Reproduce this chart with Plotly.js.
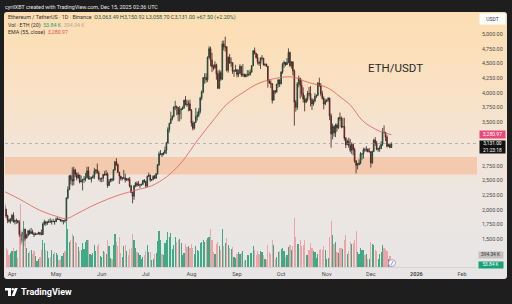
<!DOCTYPE html>
<html><head><meta charset="utf-8">
<script src="https://cdn.plot.ly/plotly-3.0.1.min.js"></script>
<style>
html,body{margin:0;padding:0;background:#1e1e1e;width:512px;height:304px;overflow:hidden}
#bg{position:absolute;left:4px;top:12px;width:503px;height:267px;border-radius:3px;background:linear-gradient(to bottom,#fcdeb2 0%,#f9e1c3 28%,#f2e5d9 52%,#eae6e4 78%,#e7e5e5 100%)}
#chart{position:absolute;left:0;top:0;width:512px;height:304px}
</style></head><body><div id="bg"></div><div id="chart"></div>
<script>
// ---- DATA (ETH/USDT daily, 27 Mar 2025 - 15 Dec 2025) ----
const startDate = '2025-03-27';
const openP = [
 2070,2005,1895,1825,1805,
 1822,1905,1795,1815,1815,1785,1580,1555,1475,1670,1520,1565,1640,1595,1625,1588,1578,1585,1585,1612,1585,1578,1755,1795,1770,1785,1795,1792,1800,1800,
 1795,1840,1843,1835,1808,1815,1815,1810,2205,2345,2580,2515,2490,2680,2610,2545,2595,2475,2495,2520,2525,2550,2665,2525,2530,2550,2565,2660,2680,2630,2530,
 2530,2540,2605,2595,2610,2415,2480,2525,2510,2680,2820,2770,2640,2575,2530,2545,2545,2510,2525,2520,2405,2295,2230,2410,2450,2420,2420,2425,2435,2500,
 2485,2405,2570,2590,2510,2515,2570,2540,2615,2770,2955,2960,2940,2970,3015,3140,3375,3475,3550,3590,3755,3760,3745,3630,3705,3720,3745,3870,3800,3795,3810,
 3695,3480,3390,3490,3590,3615,3680,3910,4010,4255,4260,4220,4600,4750,4555,4440,4425,4475,4315,4075,4340,4230,4830,4780,4780,4380,4600,4510,4510,4365,4370,
 4390,4310,4330,4450,4300,4310,4270,4305,4305,4310,4350,4460,4715,4670,4600,4525,4500,4590,4590,4475,4485,4450,4200,4165,4150,3870,4030,4015,4145,4215,
 4145,4350,4485,4515,4480,4515,4685,4460,4525,4370,3835,3750,4150,4245,4125,3985,3890,3835,3890,3985,3980,3875,3805,3855,3935,3955,4160,4115,3980,3900,3805,
 3850,3875,3905,3605,3295,3420,3315,3445,3400,3570,3565,3415,3420,3225,3110,3170,3100,3015,3115,3025,2835,2760,2770,2800,2955,2955,3025,3020,3030,2990,
 2990,2800,2995,3190,3135,3030,3045,3045,3120,3325,3320,3240,3085,3110,3063.49
];
const highP = [
 2110,2020,1915,1850,1860,
 1925,1955,1830,1850,1820,1820,1640,1620,1690,1670,1590,1650,1665,1690,1660,1615,1610,1600,1625,1615,1660,1785,1830,1800,1810,1835,1855,1830,1845,1815,
 1870,1870,1850,1845,1835,1820,1835,2210,2400,2590,2600,2725,2735,2700,2640,2640,2595,2585,2525,2575,2630,2735,2735,2575,2565,2600,2715,2690,2790,2665,2545,
 2545,2605,2660,2680,2640,2525,2530,2540,2690,2830,2880,2790,2645,2580,2560,2680,2615,2540,2545,2560,2425,2300,2420,2475,2485,2490,2445,2445,2510,2525,
 2495,2585,2635,2600,2525,2590,2595,2620,2780,2995,3020,2965,2990,3080,3160,3410,3485,3675,3615,3765,3860,3780,3755,3770,3730,3765,3880,3940,3880,3865,3880,
 3720,3520,3500,3740,3675,3735,3930,4040,4265,4330,4330,4620,4790,4785,4680,4480,4535,4495,4375,4390,4375,4885,4890,4955,4795,4620,4660,4600,4520,4390,4475,
 4400,4395,4485,4455,4490,4325,4320,4385,4380,4395,4470,4720,4770,4680,4660,4525,4600,4640,4590,4495,4495,4455,4230,4210,4160,4040,4045,4150,4235,4225,
 4365,4515,4545,4520,4590,4755,4700,4535,4530,4395,3875,4180,4290,4250,4210,4090,3955,3915,4030,4095,4110,3910,3890,3990,3965,4180,4255,4160,4030,3935,3895,
 3885,3920,3915,3645,3470,3440,3470,3475,3580,3660,3595,3570,3570,3240,3200,3230,3210,3150,3130,3060,2845,2800,2860,2985,2965,3060,3060,3085,3050,3055,
 3000,3010,3210,3240,3175,3060,3095,3170,3395,3440,3330,3270,3130,3130,3150.92
];
const lowP = [
 1990,1860,1770,1780,1765,
 1800,1780,1750,1760,1765,1535,1410,1440,1385,1470,1505,1545,1570,1590,1580,1535,1565,1575,1580,1565,1565,1570,1735,1725,1740,1780,1780,1745,1785,1745,
 1790,1830,1830,1800,1785,1750,1780,1805,2180,2335,2430,2410,2420,2560,2500,2530,2450,2465,2330,2460,2485,2545,2520,2515,2465,2530,2525,2610,2615,2500,2475,
 2470,2480,2585,2580,2375,2405,2470,2480,2490,2665,2750,2630,2440,2500,2500,2525,2465,2490,2485,2380,2290,2110,2170,2385,2390,2410,2370,2410,2420,2455,
 2375,2390,2560,2475,2490,2505,2525,2525,2600,2750,2930,2900,2930,2955,2950,3125,3320,3465,3525,3580,3700,3615,3510,3510,3545,3705,3720,3780,3755,3680,3685,
 3420,3355,3370,3490,3525,3580,3640,3870,3990,4150,4170,4180,4580,4450,4350,4380,4405,4220,4060,4060,4200,4215,4720,4700,4360,4340,4490,4440,4320,4270,4355,
 4260,4265,4325,4270,4270,4265,4265,4270,4280,4290,4340,4450,4650,4580,4480,4455,4405,4550,4460,4450,4440,4085,4150,4075,3815,3870,3975,3995,4085,4095,
 4145,4320,4420,4450,4470,4500,4440,4410,4295,3435,3675,3705,4090,3900,3930,3830,3680,3820,3850,3935,3765,3705,3775,3835,3905,3940,4100,3935,3880,3715,3785,
 3835,3840,3530,3060,3200,3250,3240,3340,3380,3520,3390,3400,3180,3055,3105,3055,2980,2950,2930,2800,2620,2690,2760,2775,2855,2875,2990,2990,2980,2980,
 2720,2780,2985,3090,3015,2990,2990,3035,3090,3300,3170,3060,3075,3050,3058.70
];
const closeP = [
 2005,1895,1825,1805,1822,
 1905,1795,1815,1815,1785,1580,1555,1475,1670,1520,1565,1640,1595,1625,1588,1578,1585,1585,1612,1585,1578,1755,1795,1770,1785,1795,1792,1800,1800,1795,
 1840,1843,1835,1808,1815,1815,1810,2205,2345,2580,2515,2490,2680,2610,2545,2595,2475,2495,2520,2525,2550,2665,2525,2530,2550,2565,2660,2680,2630,2530,2530,
 2540,2605,2595,2610,2415,2480,2525,2510,2680,2820,2770,2640,2575,2530,2545,2545,2510,2525,2520,2405,2295,2230,2410,2450,2420,2420,2425,2435,2500,2485,
 2405,2570,2590,2510,2515,2570,2540,2615,2770,2955,2960,2940,2970,3015,3140,3375,3475,3550,3590,3755,3760,3745,3630,3705,3720,3745,3870,3800,3795,3810,3695,
 3480,3390,3490,3590,3615,3680,3910,4010,4255,4260,4220,4600,4750,4555,4440,4425,4475,4315,4075,4340,4230,4830,4780,4780,4380,4600,4510,4510,4365,4370,4390,
 4310,4330,4450,4300,4310,4270,4305,4305,4310,4350,4460,4715,4670,4600,4525,4500,4590,4590,4475,4485,4450,4200,4165,4150,3870,4030,4015,4145,4215,4145,
 4350,4485,4515,4480,4515,4685,4460,4525,4370,3835,3750,4150,4245,4125,3985,3890,3835,3890,3985,3980,3875,3805,3855,3935,3955,4160,4115,3980,3900,3805,3850,
 3875,3905,3605,3295,3420,3315,3445,3400,3570,3565,3415,3420,3225,3110,3170,3100,3015,3115,3025,2835,2760,2770,2800,2955,2955,3025,3020,3030,2990,2990,
 2800,2995,3190,3135,3030,3045,3045,3120,3325,3320,3240,3085,3110,3063.49,3131.00
];
// volume in thousands of ETH
const volumeK = [
 520,610,560,380,470,
 520,640,540,560,300,980,2080,1050,1500,880,620,450,520,560,430,520,350,200,250,320,560,900,780,560,520,300,330,560,440,500,
 450,380,230,280,360,470,520,1480,1250,820,900,1100,1020,830,780,650,520,560,800,600,820,880,900,430,400,450,720,520,680,750,360,
 330,540,480,430,880,700,300,280,720,1080,820,700,1000,450,330,680,720,520,380,600,620,1100,880,640,480,450,400,260,330,400,
 520,720,500,480,240,280,420,460,850,1180,900,420,400,800,900,1150,1000,1120,580,720,980,820,900,920,780,380,450,760,650,700,640,
 760,620,420,700,560,520,780,820,900,820,880,950,1000,1260,900,480,420,760,840,700,560,1250,700,800,950,720,620,580,660,340,310,
 420,480,430,460,540,200,220,380,400,450,460,680,560,380,520,430,520,480,400,250,230,720,480,420,900,720,280,320,500,520,
 600,620,540,320,380,650,720,560,700,1600,980,760,760,880,700,720,880,380,400,560,780,640,540,480,300,420,560,600,560,680,560,
 280,300,1000,1500,1050,760,820,480,460,620,640,600,900,1050,420,520,820,760,780,900,1180,500,420,640,560,560,380,420,250,260,
 820,760,720,560,520,260,420,500,720,640,600,540,280,360,53.84
];
// EMA(55)
const emaDates = ['2025-03-27','2025-04-07','2025-04-20','2025-05-01','2025-05-08','2025-05-15','2025-05-25','2025-06-05','2025-06-15','2025-06-25','2025-07-05','2025-07-15','2025-07-25','2025-08-05','2025-08-15','2025-08-25','2025-09-05','2025-09-15','2025-09-25','2025-10-05','2025-10-10','2025-10-20','2025-10-31','2025-11-05','2025-11-10','2025-11-17','2025-11-25','2025-12-01','2025-12-08','2025-12-15'];
const emaVals = [2310,2170,1990,1890,1850,1930,2060,2180,2270,2340,2410,2560,2800,3180,3500,3800,4000,4150,4230,4270,4260,4170,4100,4030,3930,3790,3530,3420,3330,3280.97];
const zoneLow = 2600, zoneHigh = 2900;
const lastPrice = 3131.00, emaLast = 3280.97;
const monthTicks = ['2025-04-01','2025-05-01','2025-06-01','2025-07-01','2025-08-01','2025-09-01','2025-10-01','2025-11-01','2025-12-01','2026-01-01','2026-02-01'];
const monthLabels = ['Apr','May','Jun','Jul','Aug','Sep','Oct','Nov','Dec','<b>2026</b>','Feb'];
const priceTicks = [1500,1750,2000,2250,2500,2750,3500,3750,4000,4250,4500,4750,5000];

// ---- build ----
const dates = [];
const d0 = new Date(startDate + 'T00:00:00Z');
for (let i = 0; i < closeP.length; i++) {
  const d = new Date(d0.getTime() + i * 86400000);
  dates.push(d.toISOString().slice(0, 10));
}
const volColors = closeP.map((c, i) => c >= openP[i] ? 'rgba(30,160,120,0.85)' : 'rgba(240,140,145,0.75)');

const L = 5, R = 35, T = 12, B = 37, W = 512, H = 304;
const PW = W - L - R, PH = H - T - B;
const px = x => (x - L) / PW;
const py = y => (H - B - y) / PH;

const font = 'Roboto, "Liberation Sans", sans-serif';

const traces = [
  {type: 'bar', x: dates, y: volumeK, yaxis: 'y2', marker: {color: volColors, line: {width: 0}}, width: 0.78 * 86400000, hoverinfo: 'skip'},
  {type: 'candlestick', x: dates, open: openP, high: highP, low: lowP, close: closeP,
   increasing: {line: {color: '#1c3a2e', width: 0.8}, fillcolor: '#2f7a5c'},
   decreasing: {line: {color: '#4a1b1b', width: 0.8}, fillcolor: '#a83a3a'},
   whiskerwidth: 0, hoverinfo: 'skip'},
  {type: 'scatter', mode: 'lines', x: emaDates, y: emaVals, line: {color: '#e25b5b', width: 0.8, shape: 'spline'}, hoverinfo: 'skip'}
];

const ann = (o) => Object.assign({xref: 'paper', yref: 'paper', showarrow: false, borderpad: 0}, o);

const annotations = [
  ann({x: px(4), y: py(6.5), xanchor: 'left', yanchor: 'middle', text: 'cyrilXBT created with TradingView.com, Dec 15, 2025 02:36 UTC', font: {family: font, size: 5.4, color: '#e6e6e6'}}),
  ann({x: px(7), y: py(17.3), xanchor: 'left', yanchor: 'middle',
       text: 'Ethereum / TetherUS · 1D · Binance  O<span style="color:#1f5c4a">3,063.49</span> H<span style="color:#1f5c4a">3,150.92</span> L<span style="color:#1f5c4a">3,058.70</span> C<span style="color:#1f5c4a">3,131.00</span> <span style="color:#1f5c4a">+67.50 (+2.20%)</span>',
       font: {family: font, size: 5.4, color: '#333333'}}),
  ann({x: px(7), y: py(25), xanchor: 'left', yanchor: 'middle',
       text: 'Vol · ETH (20)  <span style="color:#1e9e74">53.84 K</span>  <span style="color:#b8a690">394.34 K</span>',
       font: {family: font, size: 5.3, color: '#333333'}}),
  ann({x: px(7), y: py(32), xanchor: 'left', yanchor: 'middle',
       text: 'EMA (55, close)  <span style="color:#e0506a">3,280.97</span>',
       font: {family: font, size: 5.3, color: '#333333'}}),
  ann({x: px(395), y: py(68), xanchor: 'center', yanchor: 'middle', text: 'ETH/USDT', font: {family: font, size: 11.5, color: '#2b2b2b'}}),
  ann({x: px(492), y: py(18.5), xanchor: 'center', yanchor: 'middle', text: 'USDT', width: 25, height: 10, bgcolor: '#ffffff', font: {family: font, size: 5, color: '#333'}}),
  ann({x: px(492), yref: 'y', y: emaLast, xanchor: 'center', yanchor: 'middle', text: '3,280.97', width: 25, height: 6.5, bgcolor: '#e8497a', font: {family: font, size: 5, color: '#ffffff'}}),
  ann({x: px(492), y: py(147), xanchor: 'center', yanchor: 'middle', text: '3,131.00<br>21:23:18', width: 25, height: 12, bgcolor: '#121212', font: {family: font, size: 4.8, color: '#ffffff'}}),
  ann({x: px(491), y: py(255.3), xanchor: 'center', yanchor: 'middle', text: '394.34 K', width: 24, height: 5.8, bgcolor: '#c3c1bf', font: {family: font, size: 4.8, color: '#333'}}),
  ann({x: px(491), y: py(264.5), xanchor: 'center', yanchor: 'middle', text: '53.84 K', width: 24, height: 5.8, bgcolor: '#1aa078', font: {family: font, size: 4.8, color: '#ffffff'}}),
  ann({x: px(20), y: py(292), xanchor: 'left', yanchor: 'middle', text: '<b>TradingView</b>', font: {family: font, size: 9, color: '#ffffff'}})
];

const shapes = [
  {type: 'rect', xref: 'paper', x0: 0, x1: 1, yref: 'y', y0: zoneLow, y1: zoneHigh, fillcolor: '#f3c7a8', opacity: 0.9, line: {width: 0}, layer: 'below'},
  {type: 'line', xref: 'paper', x0: 0, x1: 1, yref: 'y', y0: lastPrice, y1: lastPrice, line: {color: '#8f8f8f', width: 0.6, dash: 'dot'}, layer: 'above'},
  // TradingView logo glyph
  {type: 'rect', xref: 'paper', yref: 'paper', x0: px(5), x1: px(11), y0: py(290.5), y1: py(288), fillcolor: '#ffffff', line: {width: 0}},
  {type: 'rect', xref: 'paper', yref: 'paper', x0: px(8), x1: px(11), y0: py(296), y1: py(288), fillcolor: '#ffffff', line: {width: 0}},
  {type: 'circle', xref: 'paper', yref: 'paper', x0: px(11.5), x1: px(14), y0: py(290.5), y1: py(288), fillcolor: '#ffffff', line: {width: 0}},
  {type: 'path', xref: 'paper', yref: 'paper', path: `M ${px(14.8)} ${py(288)} L ${px(17.8)} ${py(288)} L ${px(14.6)} ${py(296)} L ${px(11.6)} ${py(296)} Z`, fillcolor: '#ffffff', line: {width: 0}},
  // small event icon on time axis
  {type: 'circle', xref: 'paper', yref: 'paper', x0: px(388.5), x1: px(395.5), y0: py(266.5), y1: py(259.5), fillcolor: '#ffffff', line: {color: '#9a86c8', width: 0.8}, layer: 'above'},
  {type: 'line', xref: 'paper', yref: 'paper', x0: px(391), x1: px(393.2), y0: py(265), y1: py(261), line: {color: '#7e68b8', width: 0.8}, layer: 'above'}
];

const layout = {
  width: W, height: H,
  margin: {l: L, r: R, t: T, b: B, pad: 0},
  paper_bgcolor: 'rgba(0,0,0,0)', plot_bgcolor: 'rgba(0,0,0,0)',
  showlegend: false, hovermode: false,
  bargap: 0,
  xaxis: {type: 'date', range: ['2025-03-27 06:00', '2026-02-11 05:00'], rangeslider: {visible: false},
          tickvals: monthTicks, ticktext: monthLabels, ticks: '', showgrid: false, zeroline: false,
          showline: true, linecolor: '#cfcac8', linewidth: 0.6,
          tickfont: {family: font, size: 5.6, color: '#4a4a4a'}, ticklabelstandoff: 2, fixedrange: true},
  yaxis: {side: 'right', range: [1023, 5376], tickvals: priceTicks, tickformat: ',.2f', ticks: '',
          showgrid: false, zeroline: false, showline: false,
          tickfont: {family: font, size: 5.4, color: '#4a4a4a'}, ticklabelstandoff: 4, fixedrange: true},
  yaxis2: {overlaying: 'y', range: [0, 8400], visible: false, fixedrange: true},
  annotations: annotations,
  shapes: shapes
};

Plotly.newPlot('chart', traces, layout, {staticPlot: true, displayModeBar: false});
</script></body></html>
